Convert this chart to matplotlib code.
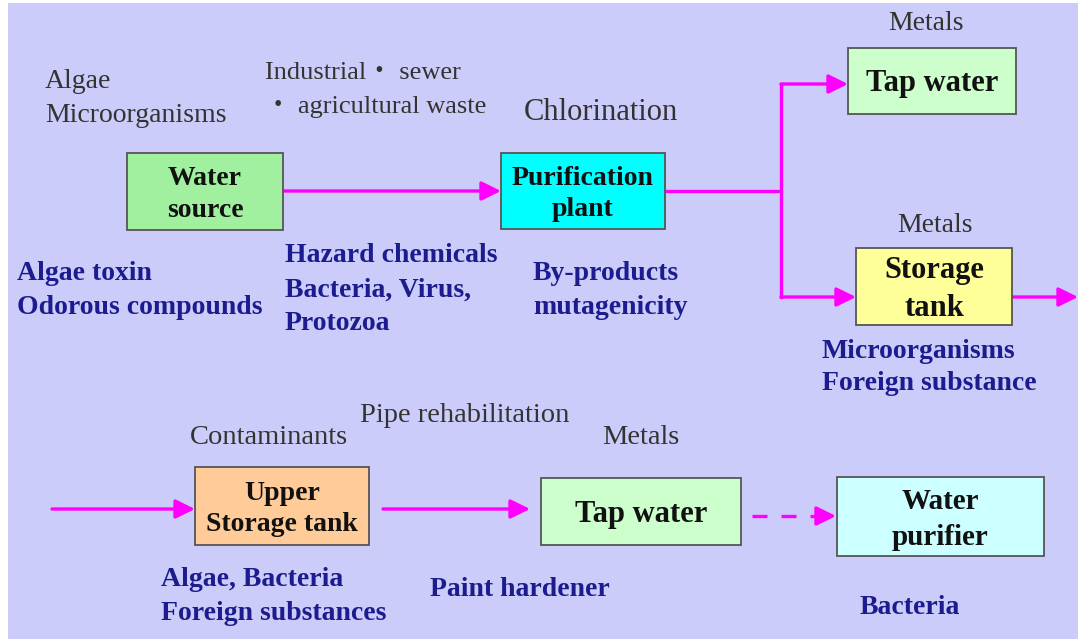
import matplotlib
matplotlib.use("Agg")
import matplotlib.pyplot as plt
from matplotlib.patches import Rectangle

# ---- content ----
node_labels = ["Water\nsource", "Purification\nplant", "Tap water", "Storage\ntank",
               "Upper\nStorage tank", "Tap water", "Water\npurifier"]
node_colors = ["#A0F0A0", "#00FFFF", "#CCFFCC", "#FFFF99", "#FFCC99", "#CCFFCC", "#CCFFFF"]
node_fontsizes = [20, 20, 22, 22, 20, 22, 21]

gray_notes = ["Algae", "Microorganisms", "Industrial\u30fb sewer", "\u30fb agricultural waste",
              "Chlorination", "Metals", "Metals", "Contaminants", "Pipe rehabilitation", "Metals"]
blue_notes = ["Algae toxin", "Odorous compounds", "Hazard chemicals", "Bacteria, Virus,",
              "Protozoa", "By-products", "mutagenicity", "Microorganisms", "Foreign substance",
              "Algae, Bacteria", "Foreign substances", "Paint hardener", "Bacteria"]

# ---- layout (pixel coordinates) ----
node_boxes = [(127, 153, 156, 77), (501, 153, 164, 76), (848, 48, 168, 66), (856, 248, 156, 77),
              (195, 467, 174, 78), (541, 478, 200, 67), (837, 477, 207, 79)]
node_spacing = [1.35, 1.35, 1.0, 1.4, 1.35, 1.0, 1.45]
gray_pos = [(45, 82), (45, 115), (265, 73), (265, 107), (524, 112), (888, 24), (897, 226),
            (190, 437), (360, 416), (602, 437)]
gray_sizes = [20, 20, 19, 19, 22, 20, 20, 20.5, 20.5, 20.5]
blue_pos = [(17, 273), (17, 308), (285, 255), (285, 290), (285, 324), (533, 273), (533, 308),
            (822, 351), (822, 384), (161, 580), (161, 614), (430, 590), (860, 608)]

BG = "#CCCCFA"
MAG = "#FF00FF"
BLUE = "#1C1C8E"
GRAY = "#333333"
SERIF = ["Liberation Serif", "Noto Sans CJK JP", "DejaVu Serif"]

W, H = 1078, 639
fig = plt.figure(figsize=(W / 100, H / 100), dpi=100)
fig.patch.set_facecolor("white")
ax = fig.add_axes([0, 0, 1, 1])
ax.set_xlim(0, W)
ax.set_ylim(H, 0)
ax.axis("off")

ax.add_patch(Rectangle((8, 3), W - 8, H - 3, facecolor=BG, edgecolor="none", zorder=0))

# boxes
for lab, col, fs, ls, (x, y, w, h) in zip(node_labels, node_colors, node_fontsizes,
                                          node_spacing, node_boxes):
    ax.add_patch(Rectangle((x, y), w, h, facecolor=col, edgecolor="#555555", lw=1.3, zorder=2))
    ax.text(x + w / 2, y + h / 2 + 3, lab, ha="center", va="center", fontsize=fs,
            fontweight="bold", family=SERIF, color="#111111", linespacing=ls, zorder=3)

# notes
for t, (x, y), fs in zip(gray_notes, gray_pos, gray_sizes):
    ax.text(x, y, t, ha="left", va="center", fontsize=fs, family=SERIF, color=GRAY, zorder=3)
for t, (x, y) in zip(blue_notes, blue_pos):
    ax.text(x, y, t, ha="left", va="center", fontsize=20, fontweight="bold", family=SERIF,
            color=BLUE, zorder=3)

# arrows
def arrow(x0, y0, x1, y1):
    ax.annotate("", xy=(x1, y1), xytext=(x0, y0),
                arrowprops=dict(arrowstyle="-|>,head_length=0.65,head_width=0.32", color=MAG,
                                lw=2.4, shrinkA=0, shrinkB=0, mutation_scale=18), zorder=1)

arrow(283, 191, 501, 191)
ax.plot([665, 781], [191, 191], color=MAG, lw=2.4, zorder=1, solid_capstyle="butt")
ax.plot([781, 781], [84, 297], color=MAG, lw=2.4, zorder=1, solid_capstyle="projecting")
arrow(781, 84, 848, 84)
arrow(781, 297, 856, 297)
arrow(1012, 297, 1078, 297)
arrow(52, 509, 195, 509)
arrow(383, 509, 530, 509)
ax.plot([752, 822], [516, 516], color=MAG, lw=2.4, linestyle=(0, (4.5, 4.2)), zorder=1)
arrow(818, 516, 836, 516)

fig.savefig("out.png", dpi=100, facecolor=fig.get_facecolor())
